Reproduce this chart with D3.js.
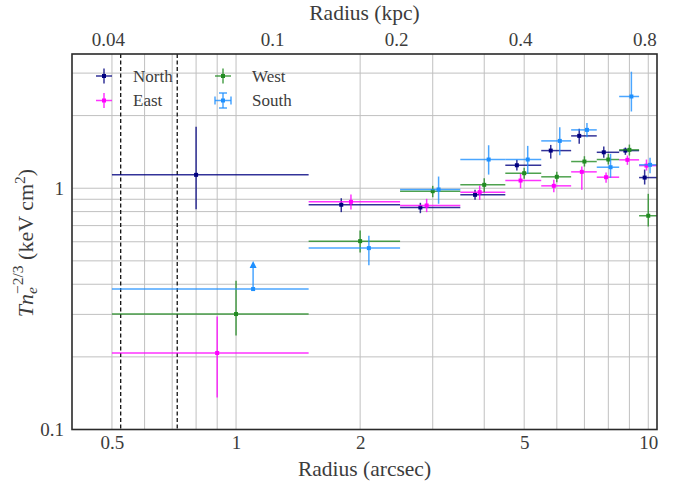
<!DOCTYPE html>
<html><head><meta charset="utf-8"><script src="https://cdn.jsdelivr.net/npm/d3@7"></script></head>
<body style="margin:0">
<svg id="chart" width="676" height="487"></svg>
<script>
// Radial bins (arcsec) shared by all sectors
const binLo = [0.5, 1.5, 2.5, 3.5, 4.5, 5.5, 6.5, 7.5, 8.5, 9.5];
const binHi = [1.5, 2.5, 3.5, 4.5, 5.5, 6.5, 7.5, 8.5, 9.5, 10.5];

// North sector: radius, T n_e^{-2/3}, lower / upper bounds
const northR  = [0.8, 1.8, 2.8, 3.8, 4.8, 5.8, 6.8, 7.8, 8.8, 9.8];
const northV  = [1.136, 0.854, 0.832, 0.939, 1.245, 1.432, 1.648, 1.409, 1.432, 1.107];
const northLo = [0.819, 0.796, 0.788, 0.895, 1.184, 1.327, 1.527, 1.336, 1.375, 1.036];
const northHi = [1.80, 0.909, 0.870, 0.985, 1.311, 1.512, 1.762, 1.488, 1.474, 1.195];

// East sector
const eastR  = [0.9, 1.9, 2.9, 3.9, 4.9, 5.9, 6.9, 7.9, 8.9, 9.9];
const eastV  = [0.2075, 0.878, 0.848, 0.963, 1.076, 1.023, 1.169, 1.111, 1.311, 1.241];
const eastLo = [0.1357, 0.816, 0.796, 0.895, 1.0, 0.963, 0.985, 1.053, 1.250, 1.184];
const eastHi = [0.294, 0.942, 0.904, 1.026, 1.147, 1.083, 1.230, 1.161, 1.366, 1.315];

// West sector
const westR  = [1.0, 2.0, 3.0, 4.0, 5.0, 6.0, 7.0, 8.0, 9.0, 10.0];
const westV  = [0.301, 0.6035, 0.972, 1.033, 1.154, 1.115, 1.290, 1.315, 1.442, 0.769];
const westLo = [0.245, 0.542, 0.918, 0.963, 1.094, 1.059, 1.230, 1.254, 1.366, 0.694];
const westHi = [0.414, 0.668, 1.023, 1.100, 1.215, 1.171, 1.357, 1.388, 1.517, 0.948];

// South sector (innermost bin is a lower limit)
const southR   = [1.1, 2.1, 3.1, 4.1, 5.1, 6.1, 7.1, 8.1, 9.1, 10.1];
const southV   = [0.382, 0.5646, 0.988, 1.315, 1.315, 1.571, 1.745, 1.222, 2.40, 1.250];
const southLo  = [null, 0.48, 0.862, 1.139, 1.147, 1.370, 1.626, 1.104, 2.08, 1.154];
const southHi  = [null, 0.635, 1.118, 1.507, 1.498, 1.789, 1.865, 1.388, 3.04, 1.336];
const southLim = [true, false, false, false, false, false, false, false, false, false];

// Reference radii (arcsec) marked by dashed lines
const markerRadii = [0.525, 0.72];

// Tick labels
const xTicks = [0.5, 1, 2, 5, 10];
const yTicks = [0.1, 1];
const kpcTicks = [0.04, 0.1, 0.2, 0.4, 0.8];
const kpcPerArcsec = 0.0818;

const series = [
  {name: "North", color: "#000080", r: northR, v: northV, lo: northLo, hi: northHi},
  {name: "East",  color: "#ff00ff", r: eastR,  v: eastV,  lo: eastLo,  hi: eastHi},
  {name: "West",  color: "#228b22", r: westR,  v: westV,  lo: westLo,  hi: westHi},
  {name: "South", color: "#1e90ff", r: southR, v: southV, lo: southLo, hi: southHi, lim: southLim}
];

const INK = "#3c3c3c";

// labels: serif face set directly on each text element
function serifText(sel, size) {
  return sel.style("font-family", '"Liberation Serif"')
    .attr("font-size", size)
    .attr("fill", INK);
}

const svg = d3.select("#chart");
const L = 72, R = 657, T = 54, B = 429.5;

const x = d3.scaleLog().domain([0.4, 10.5]).range([L, R]);
const y = d3.scaleLog().domain([0.1, 3.6]).range([B, T]);
const xk = d3.scaleLog().domain([0.4 * kpcPerArcsec, 10.5 * kpcPerArcsec]).range([L, R]);

// grid
const xGrid = [0.5, 0.6, 0.7, 0.8, 0.9, 1, 2, 3, 4, 5, 6, 7, 8, 9, 10];
const yGrid = [0.2, 0.3, 0.4, 0.5, 0.6, 0.7, 0.8, 0.9, 1, 2, 3];
const grid = svg.append("g").attr("stroke", "#c0c0c0").attr("stroke-width", 1);
grid.selectAll("line.gx").data(xGrid).join("line").attr("class", "gx")
  .attr("x1", d => x(d)).attr("x2", d => x(d)).attr("y1", T).attr("y2", B);
grid.selectAll("line.gy").data(yGrid).join("line").attr("class", "gy")
  .attr("y1", d => y(d)).attr("y2", d => y(d)).attr("x1", L).attr("x2", R);

// dashed reference radii
svg.append("g").selectAll("line").data(markerRadii).join("line")
  .attr("x1", d => x(d)).attr("x2", d => x(d)).attr("y1", T).attr("y2", B)
  .attr("stroke", "#111").attr("stroke-width", 1.3).attr("stroke-dasharray", "4,2.5");

// data
const plot = svg.append("g");
series.forEach(s => {
  const g = plot.append("g");
  d3.range(s.r.length).forEach(i => {
    const cx = x(s.r[i]), cy = y(s.v[i]);
    g.append("line")
      .attr("x1", Math.max(L, x(binLo[i]))).attr("x2", Math.min(R, x(binHi[i])))
      .attr("y1", cy).attr("y2", cy)
      .attr("stroke", s.color).attr("stroke-width", 1.5).attr("stroke-opacity", 0.8);
    if (s.lim && s.lim[i]) {
      const tip = cy - 28;
      g.append("line").attr("x1", cx).attr("x2", cx).attr("y1", cy).attr("y2", tip + 5)
        .attr("stroke", s.color).attr("stroke-width", 1.5).attr("stroke-opacity", 0.8);
      g.append("path")
        .attr("d", `M${cx},${tip} L${cx - 3.5},${tip + 7} L${cx + 3.5},${tip + 7} Z`)
        .attr("fill", s.color);
    } else {
      g.append("line").attr("x1", cx).attr("x2", cx)
        .attr("y1", y(s.lo[i])).attr("y2", y(s.hi[i]))
        .attr("stroke", s.color).attr("stroke-width", 1.5).attr("stroke-opacity", 0.8);
    }
    g.append("rect").attr("x", cx - 2).attr("y", cy - 2).attr("width", 4).attr("height", 4)
      .attr("fill", s.color);
  });
});

// axes (labels only, no tick marks)
const axBottom = svg.append("g").attr("transform", `translate(0,${B})`)
  .call(d3.axisBottom(x).tickValues(xTicks).tickSize(0).tickPadding(6).tickFormat(d3.format("")));
const axLeft = svg.append("g").attr("transform", `translate(${L},0)`)
  .call(d3.axisLeft(y).tickValues(yTicks).tickSize(0).tickPadding(8).tickFormat(d3.format("")));
const axTop = svg.append("g").attr("transform", `translate(0,${T})`)
  .call(d3.axisTop(xk).tickValues(kpcTicks).tickSize(0).tickPadding(8).tickFormat(d3.format("")));
[axBottom, axLeft, axTop].forEach(a => {
  a.select(".domain").remove();
  serifText(a.selectAll("text"), 19);
});

// frame
svg.append("rect").attr("x", L).attr("y", T).attr("width", R - L).attr("height", B - T)
  .attr("fill", "none").attr("stroke", "#2a2a2a").attr("stroke-width", 1.6);

// axis titles
serifText(svg.append("text"), 21.5).attr("x", (L + R) / 2).attr("y", 476)
  .attr("text-anchor", "middle").text("Radius (arcsec)");
serifText(svg.append("text"), 21.5).attr("x", (L + R) / 2).attr("y", 20)
  .attr("text-anchor", "middle").text("Radius (kpc)");

const yl = serifText(svg.append("text"), 22)
  .attr("transform", "translate(33,243) rotate(-90)").attr("text-anchor", "middle");
yl.append("tspan").attr("font-style", "italic").text("Tn");
yl.append("tspan").attr("font-style", "italic").attr("font-size", 15.5).attr("dy", 4).text("e");
yl.append("tspan").attr("font-size", 15.5).attr("dx", -7).attr("dy", -14).text("−2/3");
yl.append("tspan").attr("dy", 10).text(" (keV cm");
yl.append("tspan").attr("font-size", 15.5).attr("dy", -8).text("2");
yl.append("tspan").attr("dy", 8).text(")");

// legend
const legend = svg.append("g");
const legendPos = [
  {name: "North", lx: 104, ly: 76},
  {name: "East",  lx: 104, ly: 100.5},
  {name: "West",  lx: 223, ly: 76},
  {name: "South", lx: 223, ly: 100.5}
];
legendPos.forEach(p => {
  const s = series.find(d => d.name === p.name);
  const g = legend.append("g").attr("transform", `translate(${p.lx},${p.ly})`);
  g.append("line").attr("x1", -8).attr("x2", 8).attr("y1", 0).attr("y2", 0)
    .attr("stroke", s.color).attr("stroke-width", 1.5).attr("stroke-opacity", 0.8);
  g.append("line").attr("x1", 0).attr("x2", 0).attr("y1", -7.5).attr("y2", 7.5)
    .attr("stroke", s.color).attr("stroke-width", 1.5).attr("stroke-opacity", 0.8);
  if (s.lim) {
    [[-8, -8, -4, 4], [8, 8, -4, 4], [-4, 4, -7.5, -7.5], [-4, 4, 7.5, 7.5]].forEach(c => {
      g.append("line").attr("x1", c[0]).attr("x2", c[1]).attr("y1", c[2]).attr("y2", c[3])
        .attr("stroke", s.color).attr("stroke-width", 1.5).attr("stroke-opacity", 0.8);
    });
  }
  g.append("rect").attr("x", -2).attr("y", -2).attr("width", 4).attr("height", 4).attr("fill", s.color);
  serifText(g.append("text"), 17).attr("x", 29).attr("y", 5.5).text(s.name);
});
</script>
</body>
</html>
